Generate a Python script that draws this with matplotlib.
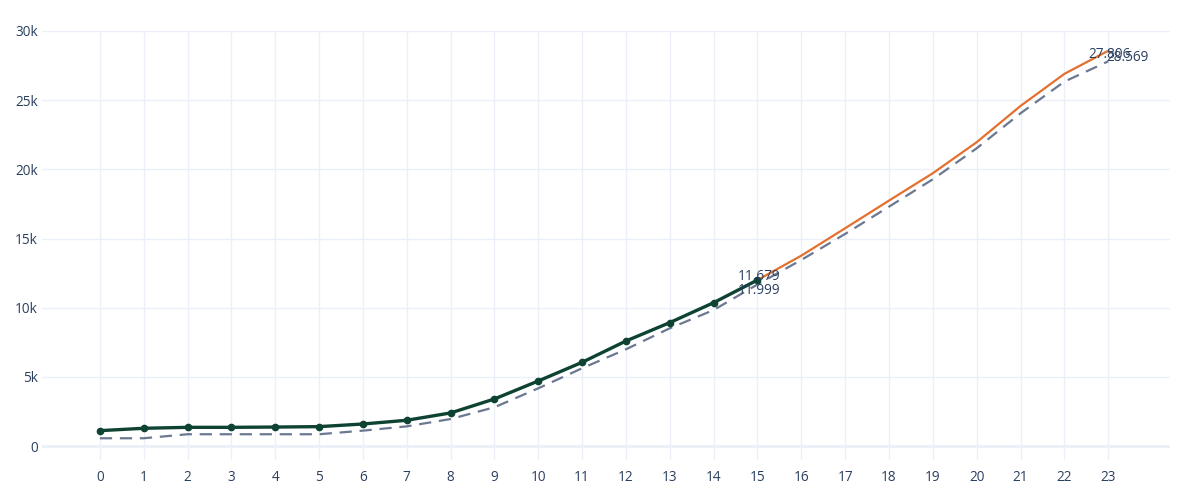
import matplotlib
matplotlib.use("Agg")
import matplotlib.pyplot as plt

plt.rcParams['font.family'] = ['Open Sans', 'DejaVu Sans']

# Actual series (days 0..15)
actual_x = list(range(0, 16))
actual_y = [1110, 1280, 1350, 1350, 1370, 1400, 1590, 1860, 2390, 3400,
            4700, 6050, 7590, 8920, 10360, 11999]

# Forecast series (days 15..23)
forecast_x = list(range(15, 24))
forecast_y = [11999, 13760, 15740, 17740, 19720, 21960, 24580, 26900, 28569]

# Reference / dashed series (days 0..23)
ref_x = list(range(0, 24))
ref_y = [560, 560, 850, 850, 850, 850, 1110, 1420, 1950, 2800,
         4170, 5620, 6990, 8510, 9830, 11679, 13450, 15330, 17300, 19280,
         21520, 24050, 26340, 27806]

x_ticks = list(range(0, 24))
y_ticks = [0, 5000, 10000, 15000, 20000, 25000, 30000]
y_tick_labels = ["0", "5k", "10k", "15k", "20k", "25k", "30k"]

TEXT = "#2a3f5f"
GRID = "#EBF0F8"
DARK = "#0e4233"
ORANGE = "#e4702e"
GRAY = "#6b7891"

fig = plt.figure(figsize=(12, 5), dpi=100)
ax = fig.add_axes([42/1200, 40/500, 1128/1200, 429/500])
ax.set_facecolor("white")

ax.plot(ref_x, ref_y, color=GRAY, lw=1.6, dashes=(5.5, 3.5), zorder=3)
ax.plot(forecast_x, forecast_y, color=ORANGE, lw=1.6, zorder=4)
ax.plot(actual_x, actual_y, color=DARK, lw=2.4, marker='o', markersize=4.5, zorder=5)

# value labels
def lab(x, y, txt, dx, dy):
    ax.annotate(txt, (x, y), xytext=(dx, dy), textcoords='offset pixels',
                ha='center', va='center', fontsize=9.8, color=TEXT, zorder=6)

lab(15, ref_y[15], "11.679", 1.5, 7.5)
lab(15, actual_y[15], "11.999", 1.5, -10)
lab(23, ref_y[23], "27.806", 1, 6.7)
lab(23, forecast_y[-1], "28.569", 19, -6.3)

ax.set_xlim(-1.32, 24.41)
ax.set_ylim(-1012, 30000)
ax.set_xticks(x_ticks)
ax.set_xticklabels([str(t) for t in x_ticks])
ax.set_yticks(y_ticks)
ax.set_yticklabels(y_tick_labels)

ax.grid(True, color=GRID, lw=1, zorder=0)
ax.axhline(0, color=GRID, lw=2, zorder=1)
for s in ax.spines.values():
    s.set_visible(False)
ax.tick_params(axis='both', length=0, colors=TEXT, labelsize=9.8)
ax.tick_params(axis='x', pad=7)
ax.tick_params(axis='y', pad=3)
ax.set_axisbelow(True)

fig.savefig("out.png", dpi=100, facecolor="white")
